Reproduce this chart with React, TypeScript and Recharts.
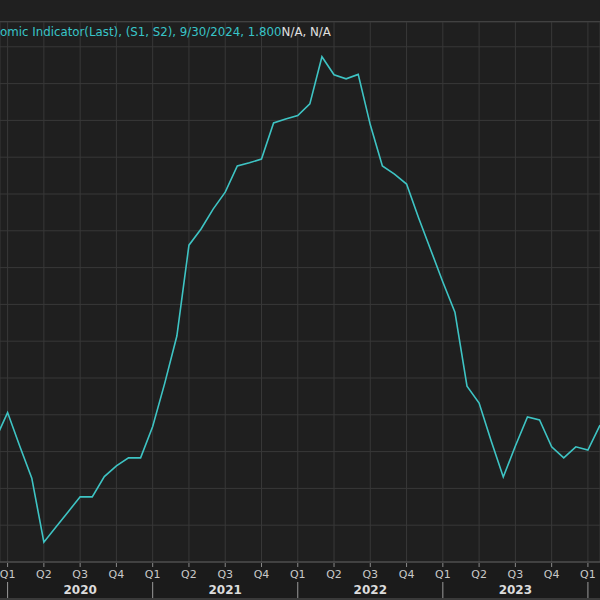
import { LineChart, Line, XAxis, YAxis, CartesianGrid } from 'recharts';

// months counted from Jan 2020 (m = 0); Dec 2019 and Feb 2024 run off the edges
const MONTHS = [-1, 0, 1, 2, 3, 4, 5, 6, 7, 8, 9, 10, 11, 12, 13, 14, 15, 16, 17, 18, 19, 20, 21, 22, 23,
    24, 25, 26, 27, 28, 29, 30, 31, 32, 33, 34, 35, 36, 37, 38, 39, 40, 41, 42, 43, 44, 45, 46, 47, 48, 49];
const VALUES = [3.34, 4.06, 3.15, 2.28, 0.54, 0.95, 1.36, 1.77, 1.77, 2.32, 2.61, 2.83, 2.83,
    3.68, 4.86, 6.14, 8.61, 9.05, 9.59, 10.05, 10.76, 10.85, 10.95, 11.93, 12.04,
    12.13, 12.45, 13.73, 13.24, 13.13, 13.25, 11.88, 10.76, 10.54, 10.27, 9.35, 8.48,
    7.61, 6.79, 4.78, 4.32, 3.29, 2.31, 3.15, 3.94, 3.86, 3.13, 2.83, 3.13,
    3.04, 3.72];
const QUARTER_TICKS = [0, 3, 6, 9, 12, 15, 18, 21, 24, 27, 30, 33, 36, 39, 42, 45, 48];
const QUARTER_LABELS = ['Q1', 'Q2', 'Q3', 'Q4'];
const YEAR_LABELS = ['2020', '2021', '2022', '2023'];
const VALUE_TICKS = [0, 1, 2, 3, 4, 5, 6, 7, 8, 9, 10, 11, 12, 13, 14];
const TITLE_SERIES = 'omic Indicator(Last), (S1, S2), 9/30/2024, 1.800';
const TITLE_REST = 'N/A, N/A';

const data = MONTHS.map((m, i) => ({ m, v: VALUES[i] }));

const BG = '#1f1f1f';
const GRID = '#383838';
const CYAN = '#3ec4c4';
const LABEL = '#c9c9c9';
const AXIS_Y = 562; // bottom of the plot (600 - x-axis height)
const MONTH_PX = 12.09;

function QuarterTick({ x, payload }: any) {
    const m = payload.value as number;
    const q = QUARTER_LABELS[(m / 3) % 4];
    const isYear = m % 12 === 0;
    const year = YEAR_LABELS[m / 12];
    return (
        <g>
            <line x1={x} y1={AXIS_Y + 1} x2={x} y2={AXIS_Y + 5} stroke="#8a8a8a" />
            <text x={x} y={AXIS_Y + 16} textAnchor="middle" fill={LABEL} fontSize={11} fontFamily="DejaVu Sans">{q}</text>
            {isYear && <line x1={x} y1={AXIS_Y + 20} x2={x} y2={AXIS_Y + 38} stroke="#9a9a9a" />}
            {isYear && year && (
                <text x={x + MONTH_PX * 6} y={AXIS_Y + 32} textAnchor="middle" fill="#dcdcdc" fontSize={12}
                    fontWeight="bold" fontFamily="DejaVu Sans">{year}</text>
            )}
        </g>
    );
}

export default function App() {
    return (
        <div style={{ position: 'fixed', left: 0, top: 0, width: 600, height: 600, overflow: 'hidden', background: '#1b1b1b' }}>
            <div style={{ position: 'absolute', left: 0, top: 0, width: 600, height: 21, background: '#202020', borderBottom: '1px solid #4a4a4a' }} />
            <LineChart width={600} height={600} data={data} margin={{ top: 22, right: 0, left: 0, bottom: 0 }}
                style={{ position: 'absolute', left: 0, top: 0 }}>
                <CartesianGrid stroke={GRID} strokeWidth={1} fill={BG} />
                <XAxis dataKey="m" type="number" domain={[-0.629, 49.0]} allowDataOverflow ticks={QUARTER_TICKS}
                    interval={0} height={38} axisLine={{ stroke: '#5a5a5a' }} tickLine={false} tick={<QuarterTick />} />
                <YAxis type="number" domain={[0, 14.674]} ticks={VALUE_TICKS} hide allowDataOverflow />
                <Line type="linear" dataKey="v" stroke={CYAN} strokeWidth={1.6} dot={false} isAnimationActive={false} />
            </LineChart>
            <div style={{ position: 'absolute', left: 0, top: 24, fontFamily: 'DejaVu Sans', fontSize: 11.8, whiteSpace: 'nowrap', lineHeight: '16px' }}>
                <span style={{ color: '#38c4c8' }}>{TITLE_SERIES}</span>
                <span style={{ color: '#e0e0e0' }}>{TITLE_REST}</span>
            </div>
            <div style={{ position: 'absolute', left: 0, top: 598, width: 600, height: 2, background: '#3a3a3a' }} />
        </div>
    );
}
